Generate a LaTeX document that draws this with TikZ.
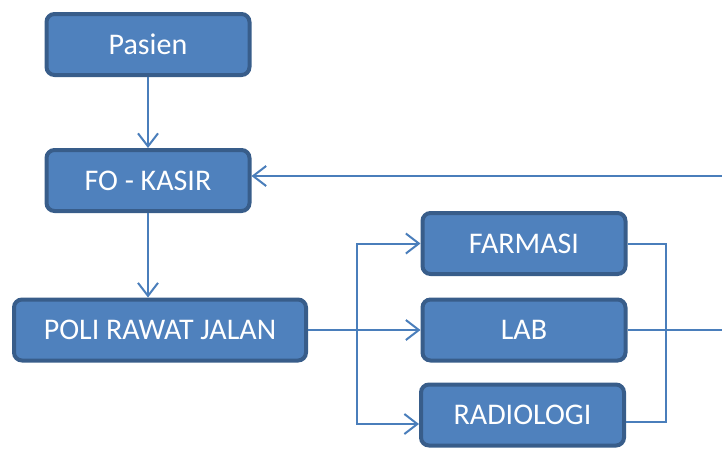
\documentclass[tikz,border=0pt]{standalone}
\usepackage{fontspec}
\setmainfont{Carlito}
\usetikzlibrary{arrows.meta}
\definecolor{boxfill}{HTML}{4F81BD}
\definecolor{boxline}{HTML}{385D8A}
\definecolor{flowline}{HTML}{4A7EBB}
\tikzset{
    unit/.style={draw=boxline, fill=boxfill, line width=4pt, rounded corners=8pt,
        minimum width=203pt, minimum height=61pt, text=white, font=\fontsize{30}{33}\selectfont},
    flow/.style={draw=flowline, line width=2pt},
    flowarrow/.style={flow, -{Straight Barb[length=13pt, width=20pt, line width=2pt]}}
}
\begin{document}
\begin{tikzpicture}[x=1pt, y=-1pt]
    \useasboundingbox (0, 0) rectangle (722, 448);

    % Main column
    \node[unit] (pasien) at (148, 44.5) {Pasien};
    \node[unit] (kasir) at (148, 180.5) {FO - KASIR};
    \node[unit, minimum width=292pt] (poli) at (160, 330) {POLI RAWAT JALAN};

    % Penunjang
    \node[unit] (farmasi) at (524, 243.5) {FARMASI};
    \node[unit] (lab) at (524, 330) {LAB};
    \node[unit] (radiologi) at (522.5, 415) {RADIOLOGI};

    % Free ends at the right edge
    \coordinate (keluar) at (722, 330);
    \coordinate (kembali) at (722, 176);

    % Downward flow
    \draw[flowarrow] (pasien) -- (kasir);
    \draw[flowarrow] (kasir.south) -- (kasir.south |- poli.north);

    % Split to the three units
    \draw[flowarrow] (poli.east) -- (lab.west);
    \draw[flowarrow] (357, 330) |- (farmasi.west);
    \draw[flowarrow] (357, 330) |- ([yshift=-9pt]radiologi.west);

    % Join on the right
    \draw[flow] (farmasi.east) -- ++(38, 0) |- ([yshift=-7pt]radiologi.east);
    \draw[flow] (lab.east) -- (keluar);

    % Back to FO - KASIR
    \draw[flowarrow] (kembali) -- (kasir.east |- kembali);
\end{tikzpicture}
\end{document}
